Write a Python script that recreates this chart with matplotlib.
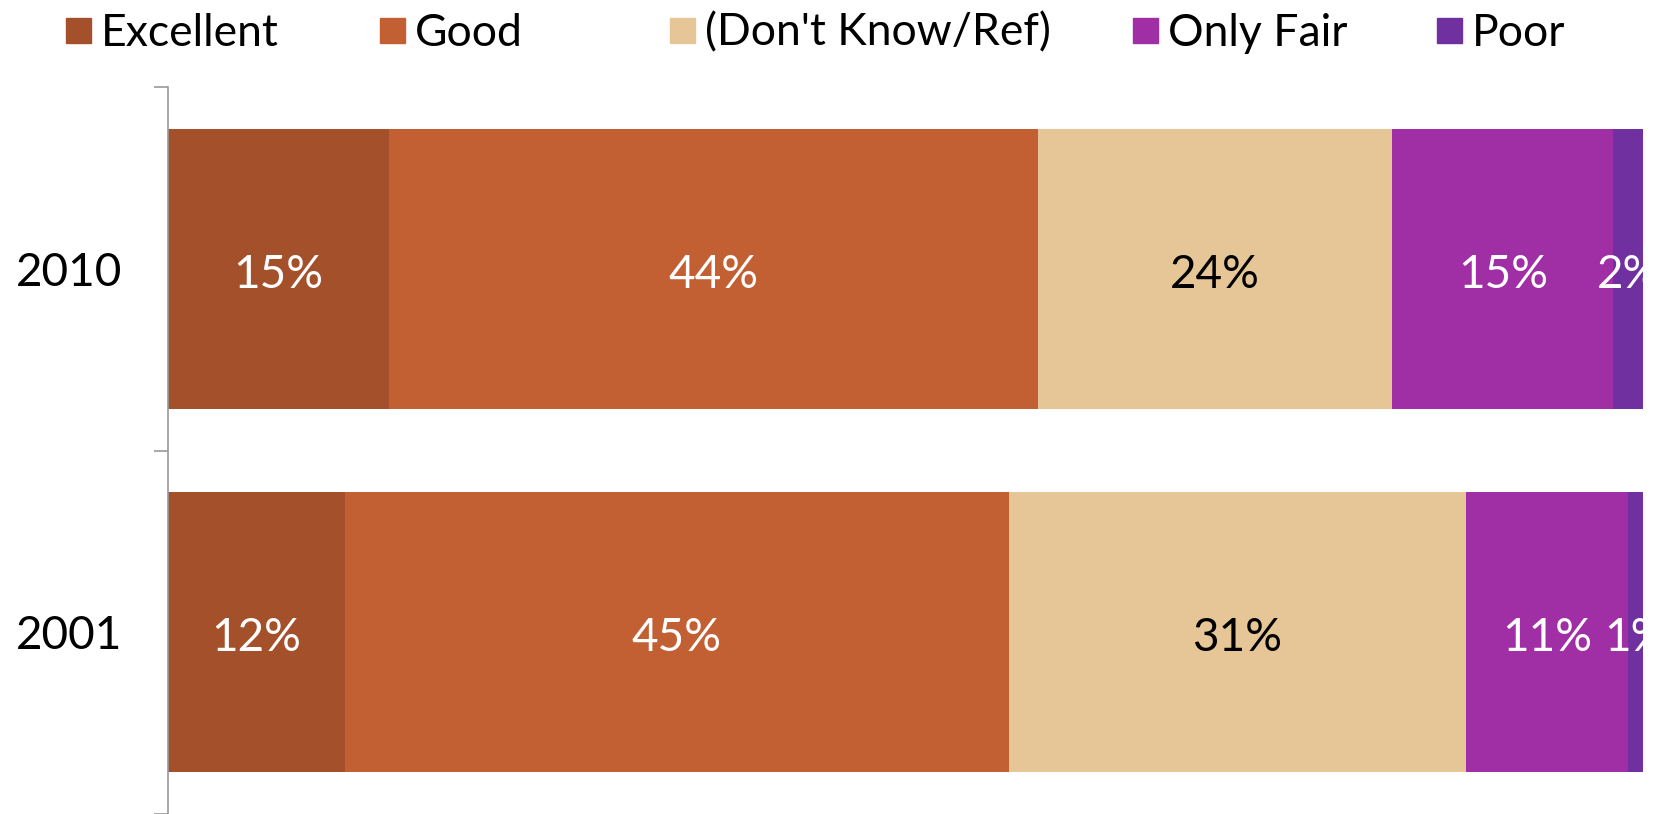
import matplotlib
matplotlib.use("Agg")
import matplotlib.pyplot as plt
from matplotlib.patches import Rectangle
import numpy as np

plt.rcParams['font.family'] = ['Lato', 'DejaVu Sans']

years = ["2001", "2010"]
categories = ["Excellent", "Good", "(Don't Know/Ref)", "Only Fair", "Poor"]
excellent = [12, 15]
good = [45, 44]
dont_know = [31, 24]
only_fair = [11, 15]
poor = [1, 2]
series = [excellent, good, dont_know, only_fair, poor]

colors = ["#A3502B", "#C25F33", "#E6C697", "#A02EA4", "#7030A0"]
label_colors = ["white", "white", "black", "white", "white"]

W, H = 1663, 814
fig = plt.figure(figsize=(W / 100, H / 100), dpi=100)
ax = fig.add_axes([167.6 / W, 0.0, (1643 - 167.6) / W, 1 - 87 / H])

y = np.arange(len(years))
left = np.zeros(len(years))
for vals, col, lc in zip(series, colors, label_colors):
    vals = np.array(vals, dtype=float)
    ax.barh(y, vals, left=left, height=0.77, color=col, edgecolor="none")
    for yi, v, l in zip(y, vals, left):
        ax.text(l + v / 2, yi - 0.016, f"{int(v)}%", ha="center", va="center",
                color=lc, fontsize=33, clip_on=True)
    left += vals

ax.set_xlim(0, 100)
ax.set_ylim(-0.5, 1.5)
ax.set_yticks(y)
ax.set_yticklabels(years, fontsize=33)
for t in ax.get_yticklabels():
    t.set_y(t.get_position()[1])
ax.tick_params(axis="y", which="major", length=0, pad=33)
ax.set_yticks([-0.5, 0.5, 1.5], minor=True)
ax.tick_params(axis="y", which="minor", length=10, width=1.2, color="#9A9A9A", direction="out")
ax.set_xticks([])
for s in ["top", "right", "bottom"]:
    ax.spines[s].set_visible(False)
ax.spines["left"].set_color("#9A9A9A")
ax.spines["left"].set_linewidth(1.2)

# legend
sq_x = [66, 380, 670, 1133, 1437]
for cat, col, sx in zip(categories, colors, sq_x):
    fig.patches.append(Rectangle((sx / W, 1 - 42.5 / H), 24.5 / W, 24.5 / H,
                                 transform=fig.transFigure, color=col))
    fig.text((sx + 35) / W, 1 - 33 / H, cat, fontsize=32, va="center", ha="left")

fig.savefig("out.png", dpi=100)
